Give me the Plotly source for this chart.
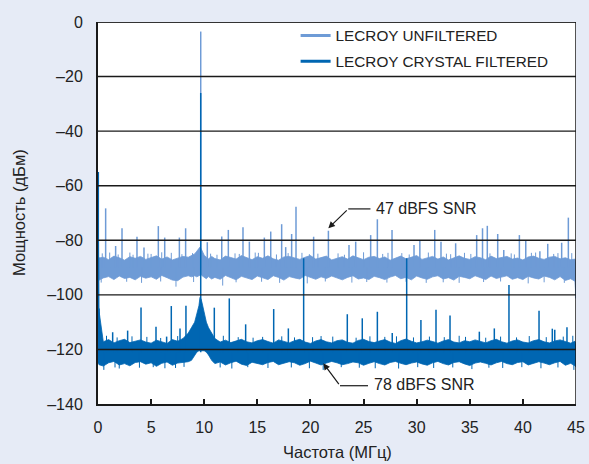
import plotly.graph_objects as go

# ---------------- data ----------------
f_env = [0, 0.1, 0.5, 1, 1.5, 2, 2.5, 3, 3.5, 4,
         4.5, 5, 5.5, 6, 6.5, 7, 7.5, 8, 8.5, 8.8,
         9.1, 9.3, 9.5, 9.6, 9.7, 9.8, 10.0, 10.2, 10.4, 10.7,
         11, 11.5, 12, 12.5, 13, 13.5, 14, 14.5, 15, 15.5,
         16, 16.5, 17, 17.5, 18, 18.5, 19, 19.5, 20, 20.5,
         21, 21.5, 22, 22.5, 23, 23.5, 24, 24.5, 25, 25.5,
         26, 26.5, 27, 27.5, 28, 28.5, 29, 29.5, 30, 30.5,
         31, 31.5, 32, 32.5, 33, 33.5, 34, 34.5, 35, 35.5,
         36, 36.5, 37, 37.5, 38, 38.5, 39, 39.5, 40, 40.5,
         41, 41.5, 42, 42.5, 43, 43.5, 44, 44.5, 44.9, 45]

# unfiltered noise band (top / bottom edge, dB)
unf_top = [-85.5, -86.5, -86.2, -87.1, -85.8, -86.4, -87.3, -86.0, -86.6, -85.9,
           -87.0, -86.3, -85.7, -86.9, -86.1, -87.2, -86.4, -85.9, -86.2, -85.5,
           -85.0, -84.0, -83.0, -82.5, -83.0, -84.0, -85.5, -86.2, -86.8, -85.9,
           -86.7, -87.2, -85.8, -86.3, -86.9, -85.6, -86.4, -87.1, -86.0, -86.6,
           -85.7, -86.8, -87.3, -86.1, -85.9, -86.5, -87.0, -86.2, -85.6, -86.9,
           -86.3, -85.8, -87.2, -86.6, -86.0, -86.9, -85.7, -86.4, -87.1, -86.2,
           -85.9, -86.7, -86.1, -87.3, -86.4, -85.8, -86.8, -86.2, -85.6, -87.0,
           -86.5, -85.9, -86.9, -86.1, -87.2, -86.3, -85.7, -86.6, -87.0, -86.0,
           -86.4, -87.1, -85.8, -86.7, -86.2, -85.9, -86.9, -86.5, -87.2, -86.1,
           -85.8, -86.6, -87.0, -86.2, -85.9, -86.8, -86.4, -87.1, -86.9, -88.0]
unf_bot = [-94.2, -94.6, -93.8, -93.3, -94.4, -93.1, -94.0, -93.6, -94.5, -93.2,
           -93.9, -93.4, -94.3, -92.9, -93.7, -94.6, -94.8, -93.5, -93.0, -93.4,
           -93.0, -93.4, -93.0, -92.8, -92.6, -93.0, -93.6, -94.1, -93.3, -94.2,
           -93.6, -94.3, -92.9, -93.8, -94.5, -93.2, -93.9, -94.4, -93.1, -93.7,
           -94.4, -93.0, -93.6, -94.6, -93.3, -93.8, -94.2, -92.9, -93.5, -94.3,
           -93.4, -94.0, -93.1, -93.7, -94.5, -93.6, -93.0, -94.2, -93.8, -94.4,
           -93.2, -93.7, -94.4, -93.5, -92.9, -94.1, -93.6, -94.5, -93.1, -93.8,
           -94.3, -93.4, -93.0, -94.2, -93.7, -94.6, -93.2, -93.6, -94.1, -93.0,
           -93.6, -94.4, -93.1, -94.0, -93.5, -93.0, -94.3, -93.7, -94.4, -93.2,
           -93.8, -94.2, -93.1, -93.6, -94.5, -93.3, -94.7, -94.1, -95.0, -101.0]

# crystal-filtered noise band (top / bottom edge, dB)
cry_top = [-55.0, -106.0, -117.2, -116.4, -117.6, -116.8, -116.3, -117.5, -117.0, -116.5,
           -117.3, -117.7, -116.6, -117.1, -117.8, -116.4, -117.0, -116.0, -114.0, -112.0,
           -110.0, -107.0, -104.0, -101.0, -101.5, -103.0, -107.0, -110.0, -112.0, -114.0,
           -116.0, -117.3, -116.6, -117.5, -116.9, -116.3, -117.2, -117.6, -116.8, -116.4,
           -117.1, -117.7, -116.5, -117.0, -117.6, -116.8, -116.3, -117.3, -117.8, -116.9,
           -116.4, -117.2, -117.6, -116.8, -116.5, -117.4, -117.7, -116.7, -116.3, -117.1,
           -117.5, -116.9, -116.4, -117.3, -117.8, -116.8, -116.2, -117.0, -117.6, -117.2,
           -116.6, -117.1, -117.7, -116.9, -116.4, -117.3, -117.6, -116.8, -117.2, -116.5,
           -117.0, -117.6, -116.8, -116.3, -117.2, -117.7, -116.9, -116.5, -117.3, -117.6,
           -116.8, -116.4, -117.2, -117.6, -116.9, -116.5, -117.1, -117.7, -117.0, -118.0]
cry_bot = [-125.0, -125.6, -126.1, -124.9, -124.4, -125.7, -125.2, -126.0, -124.8, -124.5,
           -125.4, -124.9, -126.2, -125.1, -124.6, -125.8, -125.0, -124.8, -124.5, -124.0,
           -122.0, -121.0, -120.5, -120.5, -120.5, -120.5, -120.5, -121.0, -122.0, -124.0,
           -125.2, -124.6, -125.7, -124.9, -124.3, -125.4, -125.9, -124.7, -125.1, -125.6,
           -124.8, -124.4, -125.6, -125.1, -124.5, -124.9, -125.8, -125.2, -124.3, -125.0,
           -125.7, -125.0, -124.4, -124.9, -125.6, -125.2, -124.6, -124.9, -125.8, -125.1,
           -124.5, -125.2, -125.7, -124.8, -124.4, -125.1, -125.6, -125.0, -124.6, -125.3,
           -125.8, -124.9, -124.4, -125.2, -125.7, -124.8, -124.5, -125.3, -125.9, -125.0,
           -124.6, -125.1, -125.7, -124.9, -124.4, -125.2, -125.6, -124.8, -124.5, -125.7,
           -125.1, -124.5, -125.0, -125.6, -124.9, -124.4, -125.8, -125.1, -126.0, -126.5]

# spurs (frequency MHz, peak dB)
unf_spur_f = [0.72, 1.66, 2.26, 3.67, 4.33, 5.68, 6.28, 7.66, 8.25, 9.67,
              10.29, 11.65, 12.27, 13.65, 14.25, 15.66, 16.26, 17.29, 17.67, 18.23,
              18.64, 20.3, 21.69, 23.63, 24.26, 25.67, 26.3, 27.68, 29.75, 30.3,
              31.7, 32.29, 33.67, 35.65, 36.2, 36.65, 37.63, 38.2, 39.67, 40.27,
              41.6, 42.34, 43.65, 44.28]
unf_spur_db = [-68.3, -82.1, -75.6, -78.7, -82.6, -74.8, -79.0, -79.0, -75.6, -3.5,
               -80.7, -78.6, -76.2, -75.2, -80.5, -79.0, -76.8, -74.1, -82.5, -77.7,
               -67.7, -78.7, -76.5, -81.7, -80.5, -78.1, -72.3, -76.2, -81.7, -79.9,
               -76.2, -80.5, -81.1, -78.1, -75.6, -74.7, -77.7, -83.6, -78.1, -79.9,
               -84.0, -81.3, -80.9, -71.7]
unf_noise_f = [0.4, 1.1, 1.9, 3.0, 3.3, 4.7, 5.0, 6.0, 6.9, 7.9,
               8.9, 10.6, 11.2, 12.9, 13.3, 14.8, 15.1, 16.8, 17.9, 19.2,
               19.9, 20.7, 22.6, 23.2, 25.0, 26.8, 27.3, 28.6, 29.3, 31.1,
               32.8, 33.2, 34.5, 35.1, 36.9, 38.9, 39.2, 40.8, 41.2, 42.9,
               43.3, 44.6]
unf_noise_db = [-84.8, -84.5, -85.2, -84.5, -85.3, -84.9, -85.0, -84.4, -84.6, -85.1,
                -84.7, -84.9, -85.3, -84.8, -85.0, -84.5, -84.6, -85.2, -84.7, -84.6,
                -85.1, -84.9, -84.8, -85.3, -84.4, -85.0, -84.6, -84.7, -85.2, -84.5,
                -84.9, -85.1, -84.6, -85.0, -84.8, -84.8, -85.2, -84.6, -84.5, -85.0,
                -84.7, -84.7]
unf_dip_f = [0.3, 2.7, 4.1, 5.9, 7.34, 9.0, 11.74, 13.0, 15.4, 17.1,
             19.7, 21.4, 23.9, 25.3, 27.2, 29.0, 30.9, 32.5, 34.0, 36.3,
             37.9, 40.5, 42.0, 43.9, 44.95]
unf_dip_db = [-95.5, -95.2, -95.6, -95.1, -97.0, -95.3, -96.6, -95.4, -95.2, -95.6,
              -95.8, -95.1, -95.5, -95.3, -95.5, -95.2, -95.6, -95.4, -95.6, -95.3,
              -95.1, -95.8, -95.4, -95.6, -101.3]

cry_spur_f = [0.03, 0.1, 1.38, 2.79, 4.05, 5.46, 6.46, 6.9, 7.72, 8.28,
              9.67, 10.95, 12.36, 13.9, 16.54, 17.92, 19.36, 23.47, 24.88, 26.3,
              27.7, 29.06, 30.4, 31.82, 33.14, 35.9, 37.31, 38.69, 41.52, 42.77,
              43.0, 44.15]
cry_spur_db = [-55, -105, -113.7, -113.1, -104.6, -111.7, -115.3, -104.1, -112.3, -104.0,
               -26, -104.7, -101.3, -110.8, -105.2, -112.3, -86.6, -107.1, -108.6, -106.2,
               -114, -86.6, -109.2, -105.5, -107.6, -113.5, -112.3, -96.4, -105.8, -112.4,
               -112.8, -111.9]
cry_noise_f = [0.8, 1.8, 3.2, 4.6, 5.9, 7.5, 11.8, 13.2, 14.6, 15.5,
               17.3, 18.5, 20.2, 21.0, 22.1, 24.3, 25.6, 27.0, 28.1, 29.7,
               31.2, 32.6, 34.0, 34.6, 36.5, 37.9, 39.4, 40.6, 42.2, 43.8,
               44.7]
cry_noise_db = [-115.0, -115.6, -115.2, -115.4, -115.8, -115.1, -115.0, -115.5, -115.7, -115.4,
                -115.2, -115.6, -115.5, -115.1, -115.3, -115.7, -115.2, -115.4, -115.2, -115.6,
                -115.3, -115.5, -115.0, -115.4, -115.7, -115.3, -115.6, -115.1, -115.5, -115.3,
                -115.0]
cry_dip_f = [0.55, 1.6, 2.0, 3.9, 5.2, 6.3, 7.3, 8.1, 11.5, 12.6,
             14.1, 16.0, 18.2, 19.9, 21.2, 22.9, 24.6, 26.1, 28.3, 30.1,
             31.6, 33.4, 35.2, 36.8, 38.1, 39.9, 41.7, 43.3, 44.8]
cry_dip_db = [-127.5, -126.6, -127.0, -126.7, -126.5, -126.9, -126.8, -126.4, -126.6, -127.0,
              -126.5, -126.8, -126.6, -126.9, -127.5, -126.5, -126.7, -126.9, -127.0, -126.5,
              -126.8, -126.6, -127.2, -126.7, -126.8, -126.5, -126.9, -126.6, -127.5]

y_ticks = [0, -20, -40, -60, -80, -100, -120, -140]
y_labels = ["0", "\u201320", "\u201340", "\u201360", "\u201380", "\u2013100", "\u2013120", "\u2013140"]
x_ticks = [0, 5, 10, 15, 20, 25, 30, 35, 40, 45]
x_labels = ["0", "5", "10", "15", "20", "25", "30", "35", "40", "45"]

names = ["LECROY UNFILTERED", "LECROY CRYSTAL FILTERED"]
LIGHT = "#6e9bd6"
DARK = "#0066b2"
INK = "#1a1a1a"
TXT = "#222222"
FONT = "Liberation Sans, Arial, sans-serif"


def spur_xy(fs, peaks, base):
    xs, ys = [], []
    for f, p in zip(fs, peaks):
        xs += [f, f, None]
        ys += [base, p, None]
    return xs, ys


fig = go.Figure()


def add_series(top, bot, spur_f, spur_db, noise_f, noise_db, dip_f, dip_db, base, color):
    fig.add_trace(go.Scatter(x=f_env, y=top, mode="lines", line=dict(color=color, width=0.8),
                             showlegend=False, hoverinfo="skip"))
    fig.add_trace(go.Scatter(x=f_env, y=bot, mode="lines", line=dict(color=color, width=0.8),
                             fill="tonexty", fillcolor=color, showlegend=False, hoverinfo="skip"))
    for fs, ps, w in ((noise_f, noise_db, 1.0), (dip_f, dip_db, 1.0), (spur_f, spur_db, 1.5)):
        xs, ys = spur_xy(fs, ps, base)
        fig.add_trace(go.Scatter(x=xs, y=ys, mode="lines", line=dict(color=color, width=w),
                                 showlegend=False, hoverinfo="skip"))


add_series(unf_top, unf_bot, unf_spur_f, unf_spur_db, unf_noise_f, unf_noise_db,
           unf_dip_f, unf_dip_db, -90, LIGHT)
add_series(cry_top, cry_bot, cry_spur_f, cry_spur_db, cry_noise_f, cry_noise_db,
           cry_dip_f, cry_dip_db, -121, DARK)

# legend entries
for nm, col in zip(names, [LIGHT, DARK]):
    fig.add_trace(go.Scatter(x=[None], y=[None], mode="lines", name=nm,
                             line=dict(color=col, width=3), legendgroup=nm))

# grid lines drawn above the traces
shapes = []
for v in y_ticks[1:-1]:
    shapes.append(dict(type="line", xref="paper", yref="y", x0=0, x1=1, y0=v, y1=v,
                       line=dict(color=INK, width=1.4), layer="above"))
shapes.append(dict(type="line", xref="paper", yref="y", x0=0, x1=1, y0=0, y1=0,
                   line=dict(color="#333333", width=2), layer="above"))
shapes.append(dict(type="line", xref="x", yref="paper", x0=45, x1=45, y0=0, y1=1,
                   line=dict(color=INK, width=1.5), layer="above"))
# leader lines of the callouts
shapes.append(dict(type="line", xref="x", yref="y", x0=23.56, x1=25.65, y0=-68.5, y1=-68.5,
                   line=dict(color=INK, width=1.2), layer="above"))
shapes.append(dict(type="line", xref="x", yref="y", x0=22.78, x1=25.42, y0=-133.3, y1=-133.3,
                   line=dict(color=INK, width=1.2), layer="above"))

annotations = [
    dict(x=21.68, y=-75.6, ax=23.56, ay=-68.5, axref="x", ayref="y", xref="x", yref="y",
         text="", showarrow=True, arrowhead=2, arrowsize=1.1, arrowwidth=1.2, arrowcolor=INK,
         standoff=0),
    dict(x=21.21, y=-125.1, ax=22.78, ay=-133.3, axref="x", ayref="y", xref="x", yref="y",
         text="", showarrow=True, arrowhead=2, arrowsize=1.1, arrowwidth=1.2, arrowcolor=INK,
         standoff=0),
    dict(x=26.0, y=-68.3, xref="x", yref="y", text="47 dBFS SNR", showarrow=False,
         xanchor="left", yanchor="middle", font=dict(family=FONT, size=16, color=TXT)),
    dict(x=25.75, y=-132.8, xref="x", yref="y", text="78 dBFS SNR", showarrow=False,
         xanchor="left", yanchor="middle", font=dict(family=FONT, size=16, color=TXT)),
    dict(x=0.5, y=0, xref="paper", yref="paper", yshift=-48, text="Частота (МГц)",
         showarrow=False, xanchor="center", yanchor="middle",
         font=dict(family=FONT, size=16.5, color=TXT)),
    dict(x=0, y=0.5, xref="paper", yref="paper", xshift=-79, text="Мощность (дБм)",
         showarrow=False, xanchor="center", yanchor="middle", textangle=-90,
         font=dict(family=FONT, size=16.5, color=TXT)),
]

fig.update_layout(
    width=589, height=464,
    margin=dict(l=98, r=13, t=22, b=60, autoexpand=False),
    paper_bgcolor="#e6ebf6",
    plot_bgcolor="#ffffff",
    font=dict(family=FONT, size=16, color=TXT),
    shapes=shapes,
    annotations=annotations,
    legend=dict(x=0.4134, y=1.008, xanchor="left", yanchor="top", bgcolor="rgba(0,0,0,0)",
                font=dict(family=FONT, size=15.3, color=TXT),
                traceorder="grouped", tracegroupgap=3),
    xaxis=dict(range=[0, 45], tickvals=x_ticks, ticktext=x_labels, ticks="inside", ticklen=5,
               tickwidth=1.5, tickcolor=INK, showgrid=False, zeroline=False,
               showline=True, linecolor=INK, linewidth=2, ticklabelstandoff=8,
               tickfont=dict(family=FONT, size=16, color=TXT)),
    yaxis=dict(range=[-140, 0], tickvals=y_ticks, ticktext=y_labels, ticks="",
               showgrid=False, zeroline=False, showline=True, linecolor=INK, linewidth=2,
               ticklabelstandoff=10, tickfont=dict(family=FONT, size=16, color=TXT)),
)

fig.write_html("out.html",
               config={"displayModeBar": False},
               post_script="document.body.style.margin='0';"
                           "document.body.style.background='#e6ebf6';")
